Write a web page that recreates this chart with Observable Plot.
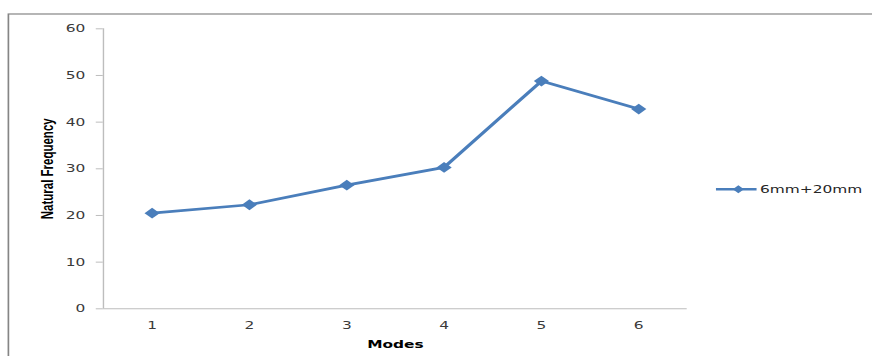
<!DOCTYPE html>
<html>
<head>
<meta charset="utf-8">
<script src="https://cdn.jsdelivr.net/npm/d3@7"></script>
<script src="https://cdn.jsdelivr.net/npm/@observablehq/plot@0.6"></script>
<style>
  html, body { margin: 0; padding: 0; background: #fff; overflow: hidden; }
  #chart svg { display: block; transform: scaleX(1.4); transform-origin: 0 0; }
</style>
</head>
<body>
<div id="chart"></div>
<script>
// Natural frequency of each vibration mode, 6mm+20mm configuration
const modes = [1, 2, 3, 4, 5, 6];
const frequency = [20.5, 22.3, 26.5, 30.3, 48.8, 42.8];
const yTicks = [0, 10, 20, 30, 40, 50, 60];
const seriesName = "6mm+20mm";

const data = modes.map((m, i) => ({mode: m, freq: frequency[i]}));

const blue = "#4a7ebb";
const axisGray = "#bdbdbd";
const W = 623, H = 356;

const chart = Plot.plot({
  width: W,
  height: H,
  marginLeft: 73.4,
  marginRight: 132.5,
  marginTop: 28.3,
  marginBottom: 47.7,
  style: {fontFamily: "DejaVu Sans, Verdana, sans-serif", fontSize: "11px", color: "#3a3a3a", background: "transparent"},
  x: {type: "linear", domain: [0.5, 6.5]},
  y: {domain: [0, 60]},
  marks: [
    Plot.axisY({ticks: yTicks, tickSize: 5, tickPadding: 8, stroke: axisGray, label: null}),
    Plot.axisX({ticks: modes, tickSize: 0, tickPadding: 12, tickFormat: d => String(d), label: null}),
    Plot.ruleY([0], {stroke: axisGray, strokeWidth: 1}),
    Plot.ruleX([0.5], {y1: 0, y2: 60, stroke: axisGray, strokeWidth: 1}),
    Plot.line(data, {x: "mode", y: "freq", stroke: blue, strokeWidth: 2.7}),
    Plot.dot(data, {x: "mode", y: "freq", symbol: "diamond2", r: 4.9, fill: blue, stroke: "none"}),
    Plot.text(["Modes"], {frameAnchor: "bottom", lineAnchor: "middle", textAnchor: "middle", dy: 35.5, fontWeight: "bold", fill: "#000", fontSize: 11}),
    Plot.text(["Natural Frequency"], {frameAnchor: "left", lineAnchor: "middle", textAnchor: "middle", rotate: -90, dx: -40, fontWeight: "bold", fill: "#000", fontSize: 11.5, fontFamily: "Liberation Sans, Arial, sans-serif"})
  ]
});

// Outer chart-area border
const svg = d3.select(chart);
svg.insert("rect", ":first-child")
  .attr("x", 6).attr("y", 14)
  .attr("width", W + 20).attr("height", H + 20)
  .attr("fill", "none").attr("stroke", "#858585").attr("stroke-width", 1.2);

// Legend entry for the series
const lg = svg.append("g").attr("transform", "translate(511.4,189.3)");
lg.append("line").attr("x1", 0).attr("x2", 29).attr("y1", 0).attr("y2", 0)
  .attr("stroke", blue).attr("stroke-width", 2.5);
lg.append("path").attr("d", d3.symbol(d3.symbolDiamond2, Math.PI * 3.6 * 3.6)())
  .attr("transform", "translate(16,0)").attr("fill", blue);
lg.append("text").attr("x", 31.5).attr("y", 0).attr("dy", "0.35em")
  .attr("text-anchor", "start")
  .attr("font-family", "DejaVu Sans, Verdana, sans-serif").attr("font-size", 11)
  .attr("fill", "#262626").text(seriesName);

document.getElementById("chart").appendChild(chart);
</script>
</body>
</html>
